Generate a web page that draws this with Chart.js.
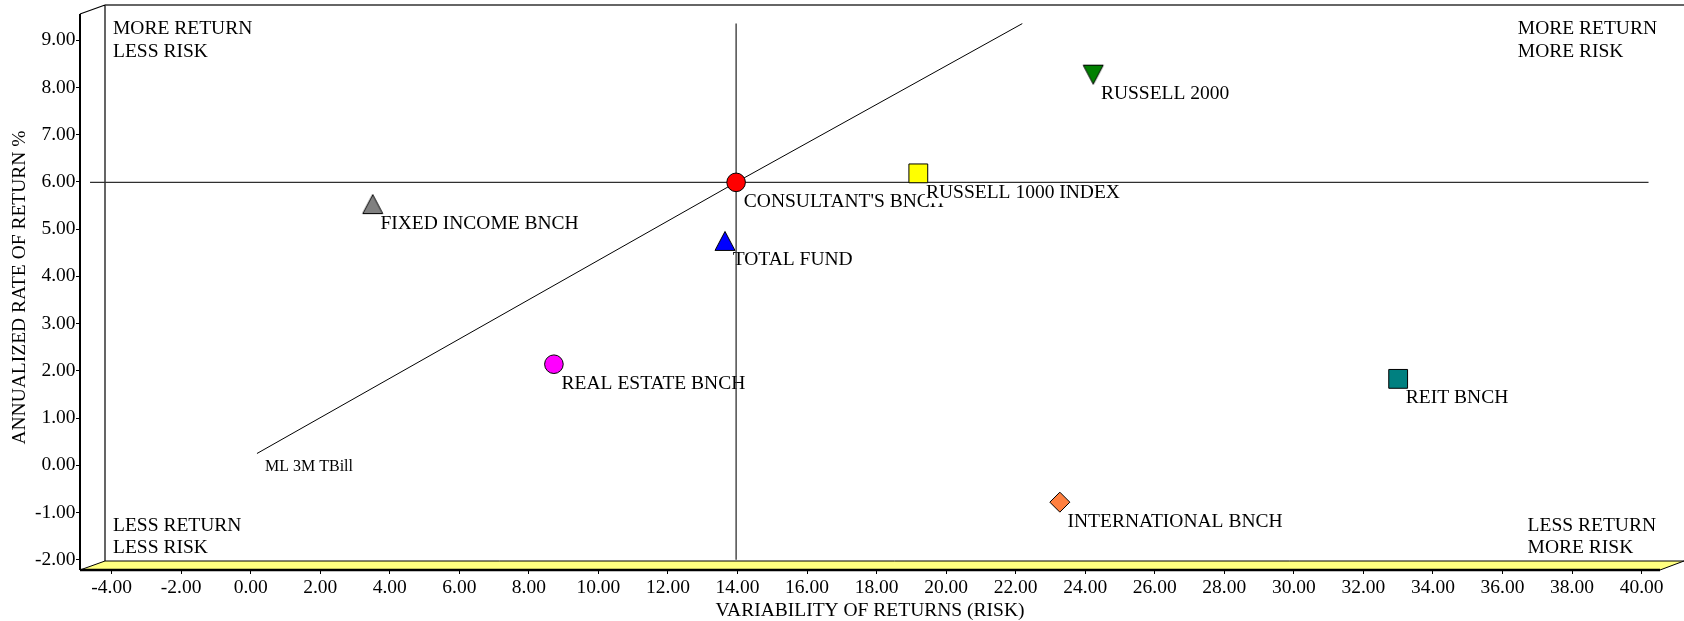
<!DOCTYPE html>
<html>
<head>
<meta charset="utf-8">
<title>Risk / Return</title>
<script src="https://cdn.jsdelivr.net/npm/chart.js@4.4.1/dist/chart.umd.min.js"></script>
<style>
  html, body { margin: 0; padding: 0; background: #fff; }
  #wrap { width: 1684px; height: 621px; position: relative; }
</style>
</head>
<body>
<div id="wrap"><canvas id="chart"></canvas></div>
<script>
// ---- data ----
const names = ["CONSULTANT'S BNCH", "RUSSELL 1000 INDEX", "TOTAL FUND", "RUSSELL 2000",
               "FIXED INCOME BNCH", "REAL ESTATE BNCH", "REIT BNCH", "INTERNATIONAL BNCH"];
const risk = [13.96, 19.20, 13.64, 24.23, 3.51, 8.72, 33.00, 23.27];
const annualReturn = [5.99, 6.18, 4.75, 8.27, 5.53, 2.14, 1.83, -0.78];

const tbillName = 'ML 3M TBill';
const tbillRisk = 0.18;
const tbillReturn = 0.25;
const marketLineEnd = { x: 22.19, y: 9.35 };
const crossRiskRange = [-4.62, 40.2];
const crossReturnRange = [-2.0, 9.35];

const xTickValues = [-4, -2, 0, 2, 4, 6, 8, 10, 12, 14, 16, 18, 20, 22, 24, 26, 28, 30, 32, 34, 36, 38, 40];
const yTickValues = [-2, -1, 0, 1, 2, 3, 4, 5, 6, 7, 8, 9];
const xTitle = 'VARIABILITY OF RETURNS (RISK)';
const yTitle = 'ANNUALIZED RATE OF RETURN %';
const quadTopLeft = ['MORE RETURN', 'LESS RISK'];
const quadTopRight = ['MORE RETURN', 'MORE RISK'];
const quadBottomLeft = ['LESS RETURN', 'LESS RISK'];
const quadBottomRight = ['LESS RETURN', 'MORE RISK'];

// ---- styles ----
const markerColors = ['#ff0000', '#ffff00', '#0000ff', '#008000', '#808080', '#ff00ff', '#008080', '#ff8040'];
const markerShapes = ['circle', 'rect', 'triUp', 'triDown', 'triUp', 'circle', 'rect', 'rectRot'];
const SERIF = "'Liberation Serif', 'Times New Roman', Times, serif";
const FONT_PX = 19.5;

Chart.defaults.font.family = SERIF;
Chart.defaults.font.size = FONT_PX;
Chart.defaults.color = '#000';

// triangles centred on their bounding box
function triangleSprite(fill, down) {
  const c = document.createElement('canvas');
  c.width = 24; c.height = 24;
  const g = c.getContext('2d');
  g.beginPath();
  if (down) {
    g.moveTo(2, 2.5); g.lineTo(22, 2.5); g.lineTo(12, 21.5);
  } else {
    g.moveTo(12, 2.5); g.lineTo(22, 21.5); g.lineTo(2, 21.5);
  }
  g.closePath();
  g.fillStyle = fill; g.fill();
  g.lineWidth = 1; g.strokeStyle = '#000'; g.stroke();
  return c;
}

const pointStyles = markerShapes.map((s, i) => {
  if (s === 'triUp') return triangleSprite(markerColors[i], false);
  if (s === 'triDown') return triangleSprite(markerColors[i], true);
  return s;
});
const pointRadii = markerShapes.map(s => s === 'circle' ? 9.3 : s === 'rect' ? 13.3 : s === 'rectRot' ? 10 : 12);

const points = names.map((n, i) => ({ x: risk[i], y: annualReturn[i] }));
const consultant = points[0];

// ---- 3D frame, quadrant captions and point labels ----
const DEPTH_X = 25, DEPTH_Y = 9;

const framePlugin = {
  id: 'frame3d',
  beforeDatasetsDraw(chart) {
    const { ctx, chartArea: a, scales } = chart;
    ctx.save();

    // floor
    ctx.beginPath();
    ctx.moveTo(a.left, a.bottom);
    ctx.lineTo(a.right, a.bottom);
    ctx.lineTo(a.right + DEPTH_X - 1, a.bottom - DEPTH_Y);
    ctx.lineTo(a.left + DEPTH_X, a.bottom - DEPTH_Y);
    ctx.closePath();
    ctx.fillStyle = '#ffff80';
    ctx.fill();
    ctx.lineWidth = 1;
    ctx.strokeStyle = '#000';
    ctx.stroke();

    // thick front floor edge
    ctx.beginPath();
    ctx.lineWidth = 2.5;
    ctx.moveTo(a.left, a.bottom);
    ctx.lineTo(a.right, a.bottom);
    ctx.stroke();

    // left wall
    ctx.beginPath();
    ctx.lineWidth = 2;
    ctx.moveTo(a.left, a.top + DEPTH_Y);
    ctx.lineTo(a.left, a.bottom);
    ctx.stroke();
    ctx.beginPath();
    ctx.lineWidth = 1.2;
    ctx.moveTo(a.left, a.top + DEPTH_Y);
    ctx.lineTo(a.left + DEPTH_X, a.top);
    ctx.moveTo(a.left + DEPTH_X, a.top);
    ctx.lineTo(a.left + DEPTH_X, a.bottom - DEPTH_Y);
    ctx.stroke();

    // back wall top edge
    ctx.beginPath();
    ctx.lineWidth = 1.5;
    ctx.strokeStyle = '#333';
    ctx.moveTo(a.left + DEPTH_X, a.top);
    ctx.lineTo(chart.width, a.top);
    ctx.stroke();

    // quadrant captions
    ctx.font = FONT_PX + 'px ' + SERIF;
    ctx.fillStyle = '#000';
    ctx.textAlign = 'left';
    ctx.textBaseline = 'alphabetic';
    const lineGap = 22.7;
    const blockWidth = lines => Math.max(...lines.map(t => ctx.measureText(t).width));
    const drawBlock = (lines, x, y) => lines.forEach((t, k) => ctx.fillText(t, x, y + k * lineGap));
    drawBlock(quadTopLeft, a.left + 33, a.top + 29);
    drawBlock(quadTopRight, a.right - 3 - blockWidth(quadTopRight), a.top + 29);
    drawBlock(quadBottomLeft, a.left + 33, a.bottom - 39.3);
    drawBlock(quadBottomRight, a.right - 4 - blockWidth(quadBottomRight), a.bottom - 39.3);

    // point labels on white boxes
    names.forEach((n, i) => {
      const px = scales.x.getPixelForValue(risk[i]);
      const py = scales.y.getPixelForValue(annualReturn[i]);
      const lx = px + 7.7, ly = py + 24.5;
      const w = ctx.measureText(n).width;
      ctx.fillStyle = '#fff';
      ctx.fillRect(lx - 1, ly - 14.5, w + 2, 20);
      ctx.fillStyle = '#000';
      ctx.fillText(n, lx, ly);
    });

    // risk-free label
    ctx.font = '16px ' + SERIF;
    ctx.fillText(tbillName,
      scales.x.getPixelForValue(tbillRisk) + 8,
      scales.y.getPixelForValue(tbillReturn) + 17);

    ctx.restore();
  }
};

new Chart(document.getElementById('chart'), {
  type: 'scatter',
  data: {
    datasets: [
      {
        label: 'Managers',
        data: points,
        pointStyle: pointStyles,
        pointRadius: pointRadii,
        pointHoverRadius: pointRadii,
        backgroundColor: markerColors,
        pointBackgroundColor: markerColors,
        pointBorderColor: '#000',
        pointBorderWidth: 1,
        showLine: false
      },
      {
        label: 'Market line',
        data: [{ x: tbillRisk, y: tbillReturn }, { x: consultant.x, y: consultant.y }, marketLineEnd],
        showLine: true,
        borderColor: '#000',
        borderWidth: 1,
        pointRadius: 0,
        pointHoverRadius: 0
      },
      {
        label: 'Benchmark return',
        data: [{ x: crossRiskRange[0], y: consultant.y }, { x: crossRiskRange[1], y: consultant.y }],
        showLine: true,
        borderColor: '#303030',
        borderWidth: 1.3,
        pointRadius: 0,
        pointHoverRadius: 0
      },
      {
        label: 'Benchmark risk',
        data: [{ x: consultant.x, y: crossReturnRange[0] }, { x: consultant.x, y: crossReturnRange[1] }],
        showLine: true,
        borderColor: '#303030',
        borderWidth: 1.3,
        pointRadius: 0,
        pointHoverRadius: 0
      }
    ]
  },
  options: {
    responsive: true,
    maintainAspectRatio: false,
    animation: false,
    devicePixelRatio: 1,
    layout: { autoPadding: false, padding: { left: 0, right: 24, top: 5, bottom: 0 } },
    plugins: {
      legend: { display: false },
      tooltip: { enabled: false }
    },
    scales: {
      x: {
        type: 'linear',
        min: -4.909,
        max: 40.53,
        afterBuildTicks: s => { s.ticks = xTickValues.map(v => ({ value: v })); },
        afterFit: s => { s.height = 51; s.paddingLeft = 0; s.paddingRight = 0; },
        grid: { drawOnChartArea: false, drawTicks: true, tickLength: 4, color: '#000' },
        border: { display: false },
        ticks: {
          autoSkip: false, maxRotation: 0, minRotation: 0, padding: 2, color: '#000',
          callback: v => Number(v).toFixed(2)
        },
        title: {
          display: true, text: xTitle, color: '#000',
          font: { size: FONT_PX, lineHeight: 1 },
          padding: { top: 0, bottom: 0 }
        }
      },
      y: {
        type: 'linear',
        min: -2.216,
        max: 9.744,
        afterBuildTicks: s => { s.ticks = yTickValues.map(v => ({ value: v })); },
        afterFit: s => { s.width = 80; s.paddingTop = 0; s.paddingBottom = 0; },
        grid: { drawOnChartArea: false, drawTicks: true, tickLength: 4, color: '#000' },
        border: { display: false },
        ticks: {
          autoSkip: false, padding: 0.5, color: '#000',
          callback: v => Number(v).toFixed(2)
        },
        title: { display: true, text: yTitle, color: '#000', padding: { top: 8, bottom: 0 } }
      }
    }
  },
  plugins: [framePlugin]
});
</script>
</body>
</html>
